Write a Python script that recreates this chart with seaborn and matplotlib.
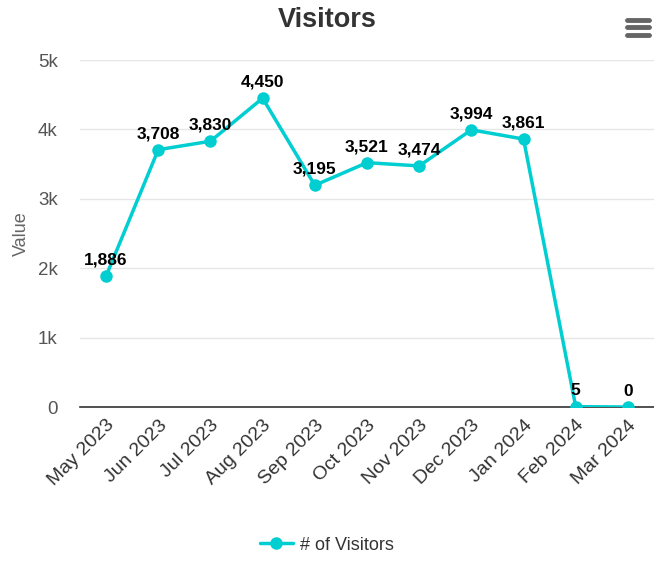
import pandas as pd
import seaborn as sns
import matplotlib.pyplot as plt
from matplotlib.lines import Line2D
from matplotlib.ticker import FuncFormatter

months = ["May 2023", "Jun 2023", "Jul 2023", "Aug 2023", "Sep 2023", "Oct 2023",
          "Nov 2023", "Dec 2023", "Jan 2024", "Feb 2024", "Mar 2024"]
visitors = [1886, 3708, 3830, 4450, 3195, 3521, 3474, 3994, 3861, 5, 0]

COLOR = "#00CED1"

sns.set_theme(style="white")
plt.rcParams["font.family"] = ["Liberation Sans", "DejaVu Sans"]

df = pd.DataFrame({"Month": months, "Visitors": visitors})

fig = plt.figure(figsize=(6.54, 5.61), dpi=100)
ax = fig.add_axes([0.1223, 0.2745, 0.8777, 0.6185])

sns.lineplot(data=df, x="Month", y="Visitors", sort=False, ax=ax,
             color=COLOR, linewidth=2.5, marker="o", markersize=9,
             markeredgewidth=0, label="# of Visitors", zorder=3)

for i, v in enumerate(visitors):
    ax.annotate(f"{v:,}", (i, v), xytext=(0, 6), textcoords="offset points",
                ha="center", va="bottom", fontsize=12.5, fontweight="bold",
                color="black", zorder=4)

ax.set_xlim(-0.5, len(months) - 0.5)
ax.set_ylim(0, 5000)
ax.set_yticks([0, 1000, 2000, 3000, 4000, 5000])
ax.yaxis.set_major_formatter(FuncFormatter(lambda v, p: "0" if v == 0 else f"{int(v/1000)}k"))
ax.grid(axis="y", color="#e6e6e6", linewidth=1)
ax.set_axisbelow(True)
for s in ["top", "right", "left"]:
    ax.spines[s].set_visible(False)
ax.spines["bottom"].set_color("#333333")
ax.spines["bottom"].set_linewidth(1.2)
ax.tick_params(axis="y", length=0, labelsize=13.5, labelcolor="#555555", pad=16)
ax.tick_params(axis="x", length=0, labelsize=14, labelcolor="#333333", pad=7)
plt.setp(ax.get_xticklabels(), rotation=45, ha="right", rotation_mode="anchor")
ax.set_xlabel("")
ax.set_ylabel("Value", fontsize=13, color="#666666", labelpad=6)

fig.suptitle("Visitors", x=0.5, y=0.988, fontsize=19.5, fontweight="bold", color="#333333")

ax.get_legend().remove()
handle = Line2D([], [], color=COLOR, linewidth=2.5, marker="o", markersize=9,
                markeredgewidth=0)
fig.legend([handle], ["# of Visitors"], loc="center", bbox_to_anchor=(0.5, 0.028),
           frameon=False, fontsize=13, labelcolor="#333333", handlelength=1.8,
           handletextpad=0.4)

# menu icon
for yy in [0.964, 0.951, 0.938]:
    fig.add_artist(Line2D([0.958, 0.992], [yy, yy], color="#666666",
                          linewidth=3.5, solid_capstyle="round"))

fig.savefig("out.png", dpi=100)
